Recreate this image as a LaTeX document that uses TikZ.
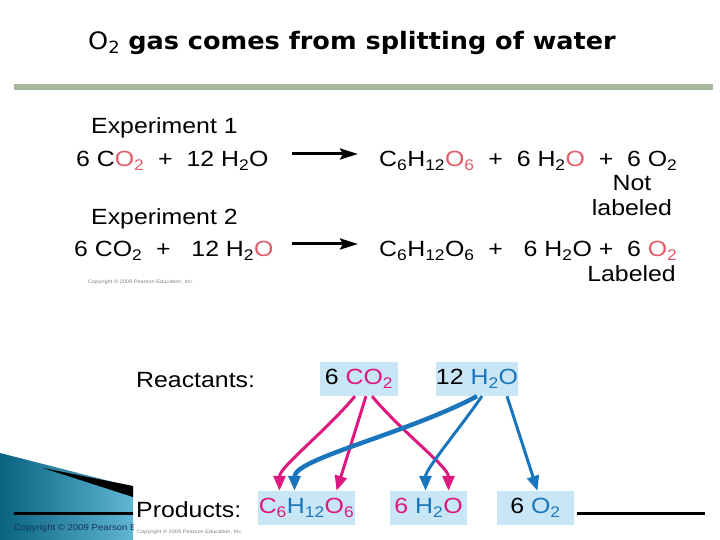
\documentclass[tikz,border=0pt]{standalone}
\usepackage{fontspec}
\setmainfont[FakeStretch=1.13]{Liberation Sans}
\newfontfamily\titlefont[FakeStretch=1.065]{DejaVu Sans}
\usepackage{xcolor}
\usetikzlibrary{positioning,arrows.meta}
\definecolor{labred}{RGB}{226,92,106}
\definecolor{cmag}{RGB}{221,24,128}
\definecolor{hblue}{RGB}{26,118,188}
\definecolor{boxblue}{RGB}{200,230,246}
\definecolor{rulegreen}{RGB}{168,184,156}
\definecolor{tealdk}{RGB}{8,98,128}
\definecolor{teallt}{RGB}{96,182,212}
\definecolor{navy}{RGB}{20,50,90}
\newcommand\low[1]{\textsubscript{#1}}
\newcommand\rd[1]{\textcolor{labred}{#1}}
\newcommand\mgt[1]{\textcolor{cmag}{#1}}
\newcommand\blt[1]{\textcolor{hblue}{#1}}

\begin{document}
\begin{tikzpicture}[x=1pt,y=1pt,
  txt/.style={inner sep=0pt,font=\fontsize{22}{25}\selectfont},
  tiny/.style={inner sep=0pt,font=\fontsize{5}{6}\selectfont,text=black!50,anchor=base west},
  box/.style={txt,fill=boxblue,minimum height=34pt},
  rxn/.style={line width=3pt,-{Stealth[length=18pt,width=11pt,inset=3pt]}},
  mg/.style={cmag,line width=3pt,-{Triangle[length=15pt,width=12pt]}},
  bl/.style={hblue,line width=3pt,-{Triangle[length=15pt,width=12pt]}}]
\useasboundingbox (0,0) rectangle (720,540);
% template: title, rule, corner
\node[anchor=west,inner sep=0pt,font=\titlefont\fontsize{24}{28}\selectfont] (title) at (88,497)
  {O\low{2} \textbf{gas comes from splitting of water}};
\fill[rulegreen] (14,449.5) rectangle (713,455.5);
\shade[left color=tealdk,right color=teallt] (0,87) -- (133,53) -- (133,0) -- (0,0) -- cycle;
\fill[black] (43,72) -- (133,54) -- (133,43) -- cycle;
\begin{scope}
  \clip (0,0) rectangle (133,40);
  \node[anchor=base west,inner sep=0pt,text=navy,font=\fontsize{8.5}{10}\selectfont] (corner) at (14,9)
    {Copyright \textcopyright{} 2009 Pearson Ed};
\end{scope}
\draw[line width=3pt] (14,26) -- (133,26);
\draw[line width=3pt] (577,26) -- (705,26);

% experiments
\node[txt,anchor=base west] (exp1) at (91,406) {Experiment 1};
\node[txt,anchor=base west] (eq1l) at (76,373) {6 C\rd{O\low{2}}\ \ +\ \ 12 H\low{2}O};
\node[txt,anchor=base west] (eq1r) at (379,373)
  {C\low{6}H\low{12}\rd{O\low{6}}\ \ +\ \ 6 H\low{2}\rd{O}\ \ +\ \ 6 O\low{2}};
\node[txt,anchor=base,align=center] (notlab) at (632,324) {Not\\labeled};
\node[txt,anchor=base west] (exp2) at (91,315) {Experiment 2};
\node[txt,anchor=base west] (eq2l) at (74,283) {6 CO\low{2}\ \ +\ \ \ 12 H\low{2}\rd{O}};
\node[txt,anchor=base west] (eq2r) at (379,283)
  {C\low{6}H\low{12}O\low{6}\ \ +\ \ \ 6 H\low{2}O\ +\ \ 6 \rd{O\low{2}}};
\node[txt,anchor=base east] (lab) at (676,258) {Labeled};
\node[tiny] (cp1) at (88,256) {Copyright \textcopyright{} 2009 Pearson Education, Inc.};
\coordinate (a1s) at (292,386);
\coordinate (a1e) at (358,386);
\coordinate (a2s) at (292,296);
\coordinate (a2e) at (358,296);
\draw[rxn] (a1s) -- (a1e);
\draw[rxn] (a2s) -- (a2e);

% reactants and products
\node[txt,anchor=base west] (reac) at (136,152) {Reactants:};
\node[txt,anchor=base west] (prod) at (136,22) {Products:};
\node[box,minimum width=78pt] (co2) at (359,161) {6 \mgt{CO\low{2}}};
\node[box,minimum width=78pt] (h2o) at (477,161) {12 \blt{H\low{2}O}};
\node[box,minimum width=97pt] (glu) at (306.5,32) {\mgt{C\low{6}}\blt{H\low{12}}\mgt{O\low{6}}};
\node[box,minimum width=77pt] (wat) at (428.5,32) {\mgt{6} \blt{H\low{2}}\mgt{O}};
\node[box,minimum width=77pt] (oxy) at (535.5,32) {6 \blt{O\low{2}}};
\node[tiny] (cp2) at (137,6) {Copyright \textcopyright{} 2009 Pearson Education, Inc.};

\draw[mg] ([xshift=-4pt]co2.south) to[out=-130,in=90,in looseness=0.5] ([xshift=-27pt]glu.north);
\draw[mg] ([xshift=7pt]co2.south) -- ([xshift=30pt]glu.north);
\draw[mg] ([xshift=13pt]co2.south) to[out=-50,in=90,in looseness=0.5] ([xshift=20pt]wat.north);
\draw[bl,line width=4.5pt] (h2o.south) to[out=-152,in=90,in looseness=0.4] ([xshift=-12pt]glu.north);
\draw[bl] ([xshift=5pt]h2o.south) to[out=-125,in=90,in looseness=0.5] ([xshift=-3pt]wat.north);
\draw[bl] ([xshift=30pt]h2o.south) -- ([xshift=2pt]oxy.north);
\end{tikzpicture}
\end{document}
